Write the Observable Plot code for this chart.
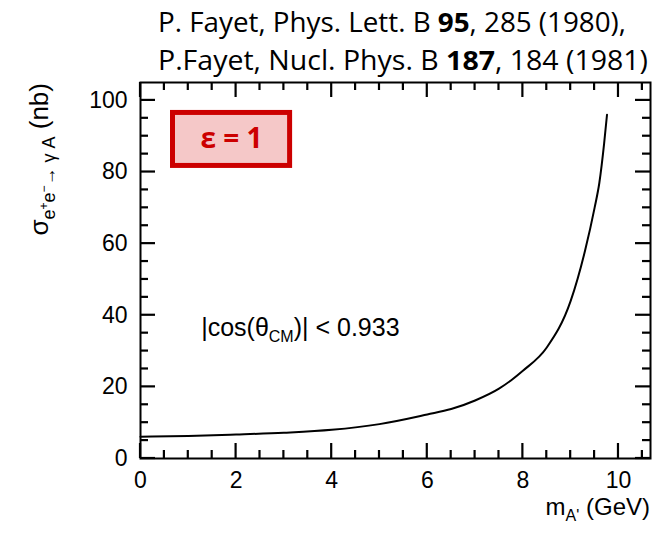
<!DOCTYPE html>
<html><head><meta charset="utf-8">
<script src="https://cdn.jsdelivr.net/npm/d3@7"></script>
<script src="https://cdn.jsdelivr.net/npm/@observablehq/plot@0.6"></script>
<style>body{margin:0;background:#fff}</style>
</head><body><div id="chart"></div>
<script>
// Data
const massGeV = [0, 1, 2, 3, 4, 5, 6, 6.5, 7, 7.5, 7.75, 8, 8.5, 9, 9.3, 9.5, 9.6, 9.7, 9.76];
const sigmaNb = [6.1, 6.3, 6.7, 7.2, 8.0, 9.6, 12.3, 13.8, 16.2, 19.5, 21.8, 24.5, 31, 44, 58, 70, 77, 88, 96];
const xMajorTicks = [0, 2, 4, 6, 8, 10];
const xMinorTicks = [0.5, 1, 1.5, 2.5, 3, 3.5, 4.5, 5, 5.5, 6.5, 7, 7.5, 8.5, 9, 9.5, 10.5];
const yMajorTicks = [0, 20, 40, 60, 80, 100];
const yMinorTicks = [5, 10, 15, 25, 30, 35, 45, 50, 55, 65, 70, 75, 85, 90, 95];
const epsBox = [{x1: 0.68, x2: 3.13, y1: 81.7, y2: 96.5, label: "ε = 1"}];
const cutNote = {x: 1.28, y: 34};

const data = massGeV.map((m, i) => ({m, s: sigmaNb[i]}));
const W = 654, H = 537;
const mL = 140, mR = 4, mT = 82, mB = 79;
const xDom = [0, 10.67], yDom = [0, 105];
const MAJ = 15, MIN = 8;
const font = "'Liberation Sans', Arial, sans-serif";

const chart = Plot.plot({
  width: W, height: H,
  marginLeft: mL, marginRight: mR, marginTop: mT, marginBottom: mB,
  style: {fontFamily: font, background: "white", color: "black"},
  x: {domain: xDom, axis: null},
  y: {domain: yDom, axis: null},
  marks: [
    Plot.rect(epsBox, {x1: "x1", x2: "x2", y1: "y1", y2: "y2", fill: "#f5c8c8", stroke: "#cc0000", strokeWidth: 5}),
    Plot.text(epsBox, {x: d => (d.x1 + d.x2) / 2, y: d => (d.y1 + d.y2) / 2, text: "label", fill: "#cc0000", fontSize: 28, fontWeight: "bold", fontFamily: "'Open Sans', sans-serif"}),
    Plot.axisX({anchor: "bottom", ticks: xMajorTicks, tickSize: 0, tickPadding: 13, fontSize: 23, label: null}),
    Plot.axisY({anchor: "left", ticks: yMajorTicks, tickSize: 0, tickPadding: 13, fontSize: 23, label: null}),
    Plot.frame({stroke: "black", strokeWidth: 2}),
    Plot.line(data, {x: "m", y: "s", curve: "monotone-x", stroke: "black", strokeWidth: 2})
  ]
});

const svg = d3.select(chart);
const sx = chart.scale("x"), sy = chart.scale("y");

// inward ticks on all four sides, placed through Plot's scales
const X0 = sx.apply(xDom[0]), X1 = sx.apply(xDom[1]);
const Y0 = sy.apply(yDom[0]), Y1 = sy.apply(yDom[1]);
const tg = svg.append("g").attr("stroke", "black").attr("stroke-width", 2.2);
const addX = (vals, len) => vals.forEach(v => {
  const px = sx.apply(v);
  tg.append("line").attr("x1", px).attr("x2", px).attr("y1", Y0).attr("y2", Y0 - len);
  tg.append("line").attr("x1", px).attr("x2", px).attr("y1", Y1).attr("y2", Y1 + len);
});
const addY = (vals, len) => vals.forEach(v => {
  const py = sy.apply(v);
  tg.append("line").attr("y1", py).attr("y2", py).attr("x1", X0).attr("x2", X0 + len);
  tg.append("line").attr("y1", py).attr("y2", py).attr("x1", X1).attr("x2", X1 - len);
});
addX(xMajorTicks, MAJ); addX(xMinorTicks, MIN);
addY(yMajorTicks, MAJ); addY(yMinorTicks, MIN);

// Title (citation), two lines
const t = svg.append("g").attr("font-family", "'Open Sans', sans-serif").attr("font-size", 27)
  .attr("fill", "black").attr("text-anchor", "start");
const l1 = t.append("text").attr("x", 158).attr("y", 32).attr("textLength", 468).attr("lengthAdjust", "spacingAndGlyphs");
l1.append("tspan").text("P. Fayet, Phys. Lett. B ");
l1.append("tspan").attr("font-weight", "bold").text("95");
l1.append("tspan").text(", 285 (1980),");
const l2 = t.append("text").attr("x", 158).attr("y", 70).attr("textLength", 490).attr("lengthAdjust", "spacingAndGlyphs");
l2.append("tspan").text("P.Fayet, Nucl. Phys. B ");
l2.append("tspan").attr("font-weight", "bold").text("187");
l2.append("tspan").text(", 184 (1981)");

// y-axis label
const yl = svg.append("text").attr("font-family", font).attr("font-size", 26)
  .attr("text-anchor", "end").attr("transform", "translate(48,83) rotate(-90)");
yl.append("tspan").text("σ");
yl.append("tspan").attr("font-size", 18).attr("dy", 7).text("e");
yl.append("tspan").attr("font-size", 12).attr("dy", -7).text("+");
yl.append("tspan").attr("font-size", 18).attr("dy", 7).text("e");
yl.append("tspan").attr("font-size", 12).attr("dy", -7).text("−");
yl.append("tspan").attr("font-size", 18).attr("dy", 7).text("→ γ A");
yl.append("tspan").attr("dy", -7).text(" (nb)");

// x-axis label
const xl = svg.append("text").attr("font-family", font).attr("font-size", 24)
  .attr("text-anchor", "end").attr("x", 650).attr("y", 515);
xl.append("tspan").text("m");
xl.append("tspan").attr("font-size", 16).attr("dy", 6).text("A'");
xl.append("tspan").attr("dy", -6).text(" (GeV)");

// cut annotation
const cn = svg.append("text").attr("font-family", font).attr("font-size", 25)
  .attr("text-anchor", "start")
  .attr("x", sx.apply(cutNote.x)).attr("y", sy.apply(cutNote.y));
cn.append("tspan").text("|cos(θ");
cn.append("tspan").attr("font-size", 16).attr("dy", 6).text("CM");
cn.append("tspan").attr("dy", -6).text(")| < 0.933");

document.getElementById("chart").append(chart);
</script>
</body></html>
